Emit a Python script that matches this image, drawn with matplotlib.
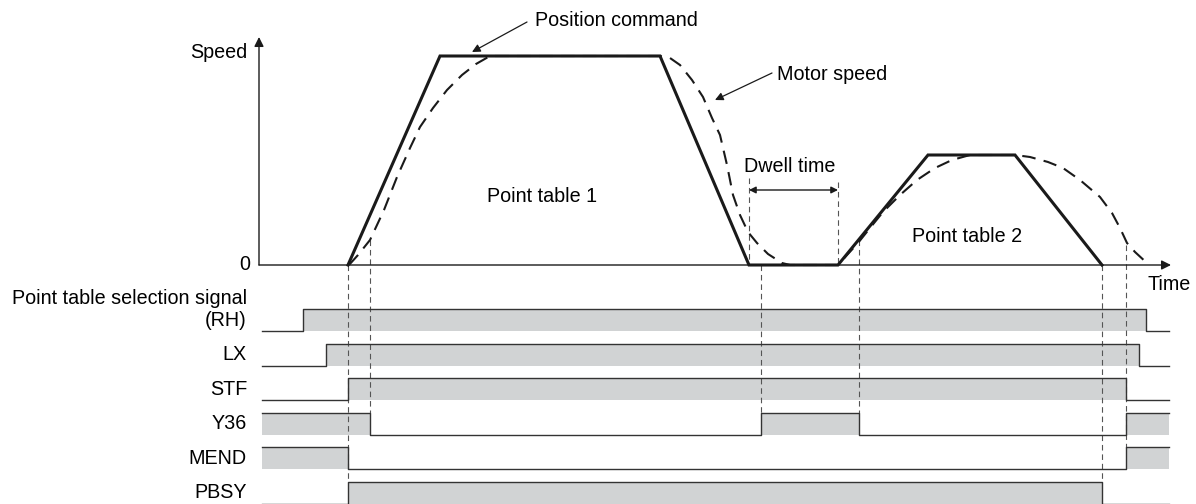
import numpy as np
import matplotlib
matplotlib.use("Agg")
import matplotlib.pyplot as plt

plt.rcParams["font.family"] = ["Liberation Sans", "DejaVu Sans"]

# ---------- data (diagram units, time to the right, speed upward) ----------

# position command (solid trapezoids)
cmd_t = [348, 440, 660, 749, 838, 928, 1015, 1102]
cmd_v = [265, 56, 56, 265, 265, 155, 155, 265]

# motor speed (dashed, lags the command)
mot_t = [349, 358, 370, 384, 397, 410, 420, 433, 447, 462, 476, 490, 660,
         670, 680, 692, 703, 712, 720, 727, 733, 740, 748, 757, 768, 782,
         790, 838, 847, 858, 870, 883, 900, 917, 935, 952, 970, 1015, 1030,
         1048, 1063, 1080, 1100, 1112, 1120, 1127, 1135, 1148]
mot_v = [265, 255, 240, 210, 177, 148, 127, 108, 90, 75, 64, 56, 56,
         58, 65, 80, 97, 118, 135, 165, 195, 215, 232, 243, 254, 263,
         265, 265, 255, 243, 228, 212, 195, 180, 168, 160, 155, 155, 157,
         162, 168, 180, 197, 213, 228, 243, 252, 264]

# signals: name, initial state, transition times
sig_names = ["(RH)", "LX", "STF", "Y36", "MEND", "PBSY"]
sig_init = [0, 0, 0, 1, 1, 0]
sig_edges = [
    [303, 1146],
    [326, 1139],
    [348, 1126],
    [370, 761, 859, 1126],
    [348, 1126],
    [348, 1102],
]

# guide lines: time, top, bottom
guide_t = [348, 370, 749, 761, 838, 859, 1102, 1126]
guide_top = [265, 240, 178, 265, 182, 240, 265, 245]
guide_bot = [482, 413, 265, 413, 265, 413, 482, 448]

# ---------- layout ----------
T0, T1 = 262, 1169        # signal time span
ROW0, ROW_STEP, ROW_H = 309, 34.6, 22
ZERO, AX_X = 265, 259
FS = 14.2
INK = "#1a1a1a"
SIG_INK = "#333333"
FILL = "#d1d3d4"

fig = plt.figure(figsize=(11.96, 5.04), dpi=100)
ax = fig.add_axes([0, 0, 1, 1])
ax.set_xlim(0, 1196)
ax.set_ylim(504, 0)
ax.axis("off")


def arrow(p_to, p_from, style="-|>", scale=14, lw=1.0):
    ax.annotate("", xy=p_to, xytext=p_from,
                arrowprops=dict(arrowstyle=style, color=INK, lw=lw,
                                mutation_scale=scale, shrinkA=0, shrinkB=0))


# speed / time axes
arrow((AX_X, 37), (AX_X, ZERO))
arrow((1171, ZERO), (AX_X, ZERO))
ax.text(247, 52, "Speed", ha="right", va="center", fontsize=FS)
ax.text(245, 264, "0", ha="center", va="center", fontsize=FS)
ax.text(1147, 284, "Time", ha="left", va="center", fontsize=FS)

# guide lines
for t, a, b in zip(guide_t, guide_top, guide_bot):
    ax.plot([t, t], [a, b], color="#555555", lw=0.8, ls=(0, (5, 3.5)), zorder=1)

# speed curves
ax.plot(cmd_t, cmd_v, color=INK, lw=2.2, solid_joinstyle="miter", zorder=4)
ax.plot(mot_t, mot_v, color=INK, lw=1.5, ls=(0, (6.5, 4)), zorder=3)

# text in speed area
ax.text(542, 197, "Point table 1", ha="center", va="center", fontsize=FS)
ax.text(967, 237, "Point table 2", ha="center", va="center", fontsize=FS)
ax.text(790, 166, "Dwell time", ha="center", va="center", fontsize=FS)
arrow((749, 190), (838, 190), style="<|-|>", scale=10)

ax.text(535, 20, "Position command", ha="left", va="center", fontsize=FS)
arrow((472, 52), (527, 22), scale=12, lw=0.9)
ax.text(777, 75, "Motor speed", ha="left", va="center", fontsize=FS)
arrow((715, 100), (772, 73), scale=12, lw=0.9)

# signal rows
for i, (name, s0, edges) in enumerate(zip(sig_names, sig_init, sig_edges)):
    hi = ROW0 + i * ROW_STEP
    lo = hi + ROW_H
    xs = [T0] + list(edges) + [T1]
    states = [(s0 + k) % 2 for k in range(len(edges) + 1)]
    for k, st in enumerate(states):
        if st:
            ax.fill_between([xs[k], xs[k + 1]], hi, lo, color=FILL, lw=0, zorder=0)
    px, py = [T0], [hi if states[0] else lo]
    for k, e in enumerate(edges):
        px += [e, e]
        py += [hi if states[k] else lo, hi if states[k + 1] else lo]
    px.append(T1)
    py.append(hi if states[-1] else lo)
    ax.plot(px, py, color=SIG_INK, lw=1.0, zorder=2)
    ax.text(247, (hi + lo) / 2 + (0 if i else 1), name, ha="right",
            va="center", fontsize=FS)

ax.text(247, 299, "Point table selection signal", ha="right", va="center",
        fontsize=FS)

fig.savefig("out.png", dpi=100)
